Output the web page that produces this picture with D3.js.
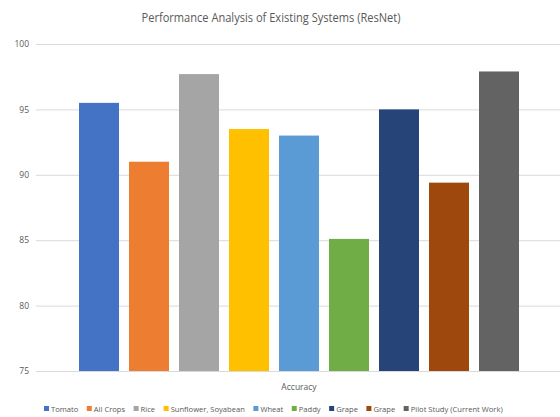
<!DOCTYPE html>
<html>
<head>
<meta charset="utf-8">
<script src="https://d3js.org/d3.v7.min.js"></script>
<style>
  body { margin: 0; background: #fff; }
  text { font-family: "Open Sans", sans-serif; fill: #595959; }
</style>
</head>
<body>
<div id="chart"></div>
<script>
var width = 560, height = 417;

var category = ["Accuracy"];
var systems = ["Tomato", "All Crops", "Rice", "Sunflower, Soyabean", "Wheat", "Paddy", "Grape", "Grape", "Pilot Study (Current Work)"];
var accuracy = [95.5, 91.0, 97.7, 93.5, 93.0, 85.1, 95.0, 89.4, 97.9];
var colors = ["#4472C4", "#ED7D31", "#A5A5A5", "#FFC000", "#5B9BD5", "#70AD47", "#264478", "#9E480E", "#636363"];
var yTicks = [75, 80, 85, 90, 95, 100];

var data = systems.map(function(s, i) { return {key: i, name: s, value: accuracy[i], color: colors[i]}; });

var svg = d3.select("#chart").append("svg")
    .attr("width", width)
    .attr("height", height);

var x0 = d3.scaleBand().domain(category).range([36, 562]);
var x1 = d3.scaleBand().domain(d3.range(systems.length))
    .range([0, x0.bandwidth()])
    .paddingInner(0.2)
    .paddingOuter(0.86);
var y = d3.scaleLinear().domain([75, 100]).range([371, 44]);

// gridlines + tick labels
var yAxis = svg.append("g")
    .attr("transform", "translate(36,0)")
    .call(d3.axisLeft(y).tickValues(yTicks).tickSize(-526).tickPadding(7));
yAxis.select(".domain").remove();
yAxis.selectAll(".tick line").attr("stroke", "#d9d9d9");
yAxis.selectAll(".tick text").style("font-size", "8.5px").attr("fill", "#595959");

// bars
svg.append("g")
    .attr("transform", "translate(" + x0("Accuracy") + ",0)")
    .selectAll("rect")
    .data(data)
    .join("rect")
    .attr("x", function(d) { return x1(d.key); })
    .attr("y", function(d) { return y(d.value); })
    .attr("width", x1.bandwidth())
    .attr("height", function(d) { return y(75) - y(d.value); })
    .attr("fill", function(d) { return d.color; });

// category label
svg.append("text")
    .attr("x", x0("Accuracy") + x0.bandwidth() / 2)
    .attr("y", 390)
    .attr("text-anchor", "middle")
    .style("font-size", "8.5px")
    .text("Accuracy");

// title, squeezed a bit toward Calibri width
svg.append("text")
    .attr("x", 271)
    .attr("y", 22)
    .attr("text-anchor", "middle")
    .style("font-size", "13.5px")
    .attr("textLength", 259)
    .attr("lengthAdjust", "spacingAndGlyphs")
    .text("Performance  Analysis of Existing Systems (ResNet)");

// legend
var legend = svg.append("g").attr("transform", "translate(44,412)");
var cx = 0;
data.forEach(function(d) {
    var g = legend.append("g").attr("transform", "translate(" + cx + ",0)");
    g.append("rect").attr("x", 0).attr("y", -6).attr("width", 5).attr("height", 5).attr("fill", d.color);
    var t = g.append("text").attr("x", 7).attr("y", 0).attr("dy", "-0.05em")
        .style("font-size", "7.6px").text(d.name);
    cx += 7 + t.node().getComputedTextLength() + 8.5;
});
</script>
</body>
</html>
